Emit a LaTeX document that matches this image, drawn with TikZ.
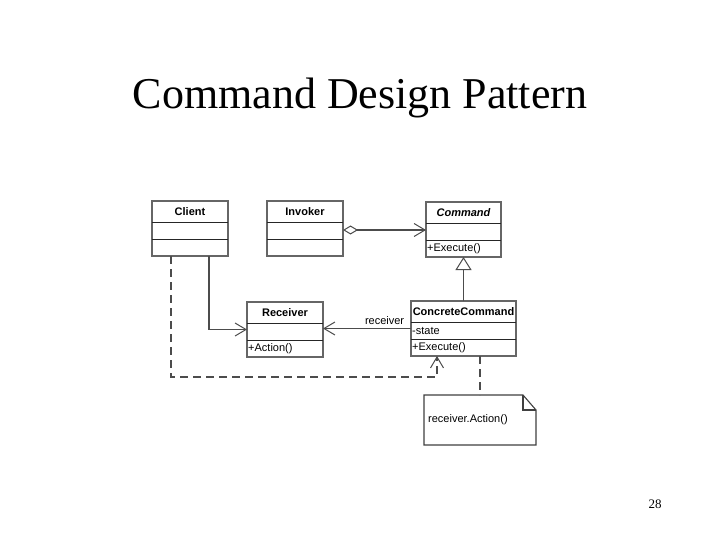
\documentclass[tikz,border=0pt]{standalone}
\usepackage{fontspec}
\setmainfont{Liberation Serif}
\newfontfamily\arialf{Liberation Sans}
\usetikzlibrary{arrows.meta}
\newcommand\umlclass[7]{%
  \node[classbox, minimum width=#4pt] (#1) at (#2,#3) {};
  \draw[divider] ([yshift=-21pt]#1.north west) -- ([yshift=-21pt]#1.north east);
  \draw[divider] ([yshift=-38pt]#1.north west) -- ([yshift=-38pt]#1.north east);
  \node[cname] (#1-t) at ([yshift=-10.5pt]#1.north) {#5};
  \node[member] (#1-a) at ([yshift=-29.5pt]#1.north west) {#6};
  \node[member] (#1-o) at ([yshift=-46.5pt]#1.north west) {#7};
}
\begin{document}
\begin{tikzpicture}[x=1pt,y=-1pt,
  classbox/.style={draw=black!60, line width=1.4pt, minimum height=55pt, anchor=north west, inner sep=0pt, outer sep=0pt},
  divider/.style={draw=black!85, line width=0.9pt},
  cname/.style={font=\arialf\bfseries\fontsize{11}{13}\selectfont, inner sep=0pt},
  member/.style={font=\arialf\fontsize{11}{13}\selectfont, anchor=west, inner sep=1pt},
  conn/.style={draw=black!70, line width=1.2pt},
  dashconn/.style={conn, dash pattern=on 8pt off 5pt},
  openarrow/.style={-{Straight Barb[length=11pt,width=13pt,line width=1pt]}},
  notestyle/.style={draw=black!75, line width=1.1pt}]
\fill[white] (0,0) rectangle (720,540);
\useasboundingbox (0,0) rectangle (720,540);

\node[anchor=base] (title) at (360,109) {\fontsize{44}{50}\selectfont Command Design Pattern};
\node[anchor=base] (pg) at (655,508) {\fontsize{13}{15}\selectfont 28};

\umlclass{client}{152}{201}{76}{Client}{}{}
\umlclass{invoker}{267}{201}{76}{Invoker}{}{}
\umlclass{command}{426}{202}{75}{\itshape Command}{}{+Execute()}
\umlclass{receiver}{247}{302}{76}{Receiver}{}{+Action()}
\umlclass{cc}{411}{301}{105}{ConcreteCommand}{-state}{+Execute()}

% note
\node[minimum width=112pt, minimum height=50pt, anchor=north west, inner sep=0pt, outer sep=0pt] (note) at (424,395) {};
\draw[notestyle] (note.north west) -- ([xshift=-13pt]note.north east) -- ([yshift=-15pt]note.north east) -- (note.south east) -- (note.south west) -- cycle;
\draw[notestyle] ([xshift=-13pt]note.north east) |- ([yshift=-15pt]note.north east);
\node[member] (notetext) at ([xshift=3pt]note.west) {receiver.Action()};

% aggregation
\draw[conn, {Diamond[open,length=15pt,width=9pt,line width=1pt]}-{Straight Barb[length=11pt,width=13pt,line width=1pt]}]
  ([yshift=-1.5pt]invoker.east) -- ([yshift=-1.5pt]invoker.east -| command.west);

% generalization
\draw[conn, -{Triangle[open,length=13pt,width=16pt,line width=1pt,fill=white]}] (cc.north) -- (command.south);

% association receiver
\draw[conn, openarrow] (cc.west) -- node[pos=0.3, above=2pt, font=\arialf\fontsize{11}{13}\selectfont, inner sep=1pt] (rlabel) {receiver} (cc.west -| receiver.east);

% client -> receiver
\draw[conn, openarrow] ([xshift=19pt]client.south) |- (receiver.west);

% client dashed -> cc
\coordinate (bend) at (437,377);
\draw[dashconn, openarrow] ([xshift=-19pt]client.south) |- (bend) -- (bend |- cc.south);

% cc dashed -> note
\draw[dashconn] ([xshift=16.5pt]cc.south) -- (note.north);
\end{tikzpicture}
\end{document}
